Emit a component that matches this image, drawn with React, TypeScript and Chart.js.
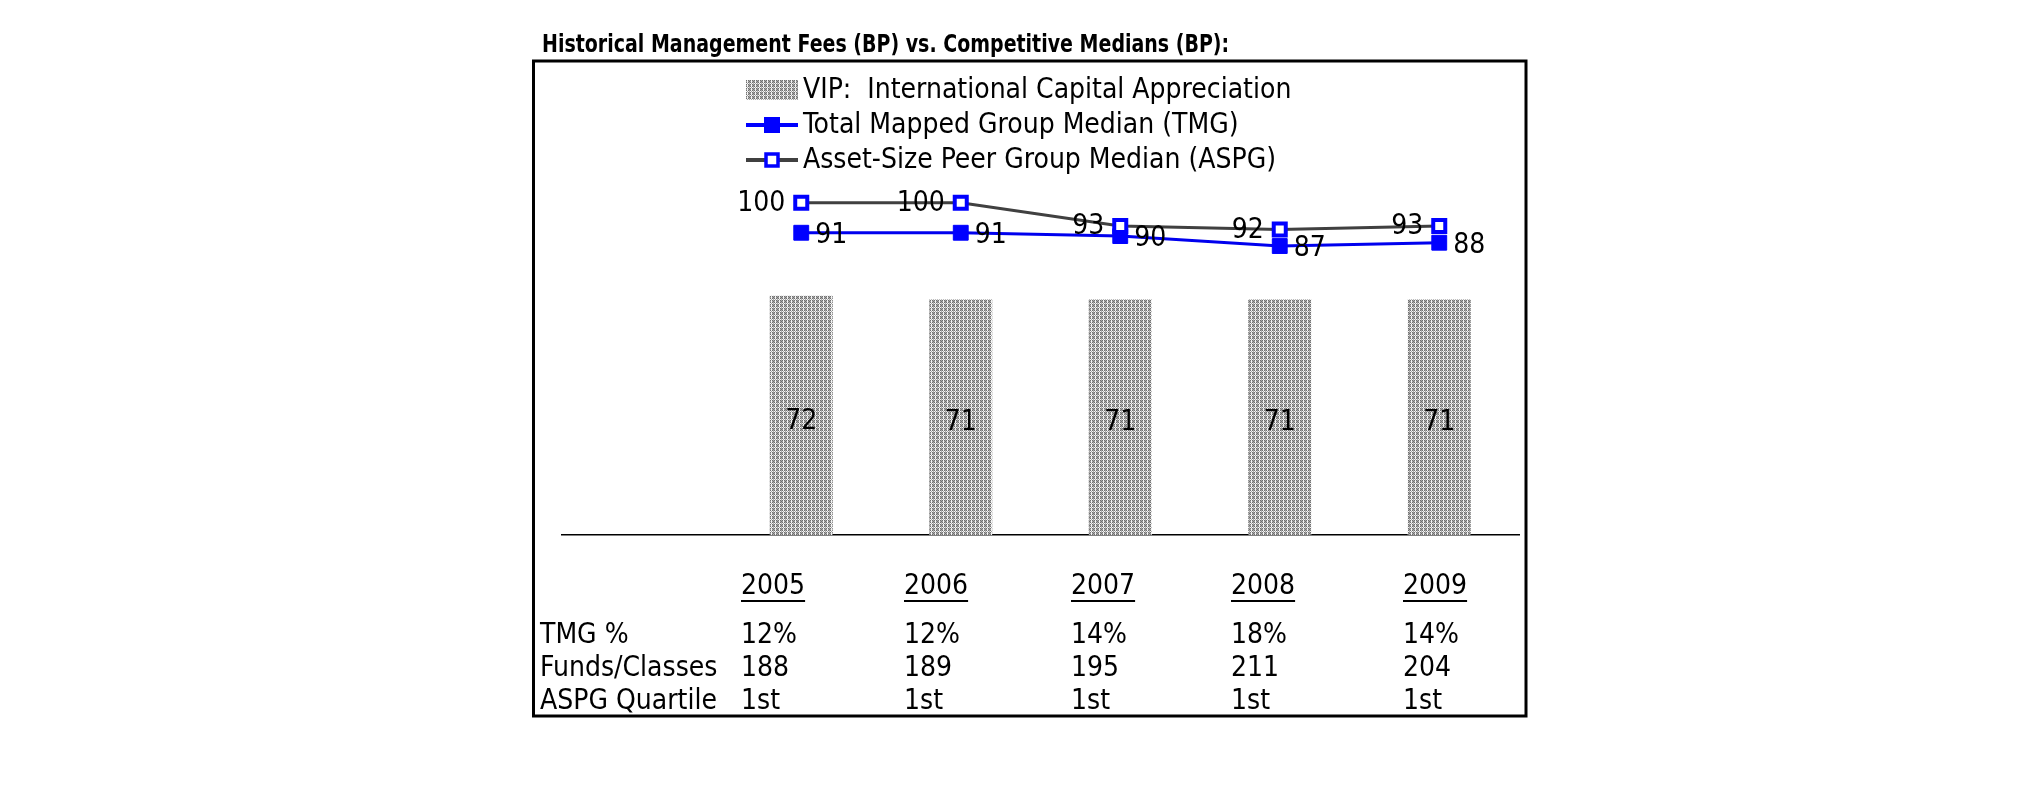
import React, { useEffect, useRef } from 'react';
import { Chart, registerables } from 'chart.js';

Chart.register(...registerables);

// ---------- data ----------
const TITLE = 'Historical Management Fees (BP) vs. Competitive Medians (BP):';
const YEARS = ['2005', '2006', '2007', '2008', '2009'];
const VIP_FEES = [72, 71, 71, 71, 71];
const TMG_MEDIAN = [91, 91, 90, 87, 88];
const ASPG_MEDIAN = [100, 100, 93, 92, 93];
const TMG_PCT = ['12%', '12%', '14%', '18%', '14%'];
const FUNDS_CLASSES = ['188', '189', '195', '211', '204'];
const ASPG_QUARTILE = ['1st', '1st', '1st', '1st', '1st'];
const ROW_LABELS = ['TMG %', 'Funds/Classes', 'ASPG Quartile'];
const SERIES_NAMES = [
  'VIP:  International Capital Appreciation',
  'Total Mapped Group Median (TMG)',
  'Asset-Size Peer Group Median (ASPG)',
];
const Y_MAX = 140;

// ---------- layout / style ----------
const W = 2025;
const H = 806;
const FONT_FAMILY = '"DejaVu Sans Condensed", "DejaVu Sans", sans-serif';
const TEXT_FONT = `28px ${FONT_FAMILY}`;
const TITLE_FONT = `bold 19px "DejaVu Sans", sans-serif`;
const BLUE = '#0000ff';
const TMG_LINE = '#0000ee';
const ASPG_LINE = '#404040';
const BOX = { l: 533.5, t: 61, r: 1526, b: 716, w: 3 };
const LEGEND = { x0: 746, x1: 798, textX: 803, rows: [90, 125, 160] };
const TABLE = { colX: [741, 904, 1071, 1231, 1403], labelX: 540, yearY: 587, rowY: [636, 669, 702] };

function makePattern(): CanvasPattern | string {
  const tile = document.createElement('canvas');
  tile.width = 4;
  tile.height = 4;
  const c = tile.getContext('2d');
  if (!c) return '#aaaaaa';
  const d = '#707070';
  const l = '#a8a8a8';
  const w = '#f4f4f4';
  const grid = [
    [d, l, d, w],
    [l, d, l, w],
    [d, l, d, w],
    [w, l, w, l],
  ];
  for (let y = 0; y < 4; y++) {
    for (let x = 0; x < 4; x++) {
      c.fillStyle = grid[y][x];
      c.fillRect(x, y, 1, 1);
    }
  }
  const p = c.createPattern(tile, 'repeat');
  return p || '#aaaaaa';
}

export default function App() {
  const ref = useRef<HTMLCanvasElement | null>(null);

  useEffect(() => {
    const canvas = ref.current;
    if (!canvas) return;
    const pattern = makePattern();

    const overlay = {
      id: 'overlay',
      afterDatasetsDraw(chart: any) {
        const ctx = chart.ctx as CanvasRenderingContext2D;
        ctx.save();
        ctx.font = TEXT_FONT;
        ctx.fillStyle = '#000';
        ctx.textBaseline = 'middle';
        // bar labels
        const bars = chart.getDatasetMeta(0).data;
        bars.forEach((el: any, i: number) => {
          if (i === 0) return;
          ctx.textAlign = 'center';
          ctx.fillText(String(VIP_FEES[i - 1]), el.x, (el.y + el.base) / 2 + 6);
        });
        // TMG labels (right)
        chart.getDatasetMeta(1).data.forEach((el: any, i: number) => {
          if (i === 0) return;
          ctx.textAlign = 'left';
          ctx.fillText(String(TMG_MEDIAN[i - 1]), el.x + 14, el.y + 3);
        });
        // ASPG labels (left)
        chart.getDatasetMeta(2).data.forEach((el: any, i: number) => {
          if (i === 0) return;
          ctx.textAlign = 'right';
          ctx.fillText(String(ASPG_MEDIAN[i - 1]), el.x - 16, el.y + 1);
        });
        ctx.restore();
      },
      afterDraw(chart: any) {
        const ctx = chart.ctx as CanvasRenderingContext2D;
        ctx.save();
        // title (vertically stretched like the source)
        ctx.save();
        ctx.font = TITLE_FONT;
        ctx.fillStyle = '#000';
        ctx.textBaseline = 'middle';
        ctx.textAlign = 'left';
        ctx.translate(542, 46);
        ctx.scale(1, 1.3);
        ctx.fillText(TITLE, 0, 0);
        ctx.restore();
        // box
        ctx.strokeStyle = '#000';
        ctx.lineWidth = BOX.w;
        ctx.strokeRect(BOX.l, BOX.t, BOX.r - BOX.l, BOX.b - BOX.t);

        // legend
        const mid = (LEGEND.x0 + LEGEND.x1) / 2;
        ctx.fillStyle = pattern as any;
        ctx.fillRect(LEGEND.x0, LEGEND.rows[0] - 10, LEGEND.x1 - LEGEND.x0, 20);
        // TMG
        ctx.strokeStyle = BLUE;
        ctx.lineWidth = 4;
        ctx.beginPath();
        ctx.moveTo(LEGEND.x0, LEGEND.rows[1]);
        ctx.lineTo(LEGEND.x1, LEGEND.rows[1]);
        ctx.stroke();
        ctx.fillStyle = BLUE;
        ctx.fillRect(mid - 8, LEGEND.rows[1] - 8, 16, 16);
        // ASPG
        ctx.strokeStyle = ASPG_LINE;
        ctx.beginPath();
        ctx.moveTo(LEGEND.x0, LEGEND.rows[2]);
        ctx.lineTo(LEGEND.x1, LEGEND.rows[2]);
        ctx.stroke();
        ctx.fillStyle = '#fff';
        ctx.fillRect(mid - 7, LEGEND.rows[2] - 7, 14, 14);
        ctx.strokeStyle = BLUE;
        ctx.lineWidth = 3.5;
        ctx.strokeRect(mid - 6, LEGEND.rows[2] - 6, 12, 12);

        ctx.font = TEXT_FONT;
        ctx.fillStyle = '#000';
        ctx.textBaseline = 'middle';
        ctx.textAlign = 'left';
        SERIES_NAMES.forEach((name, i) => {
          ctx.fillText(name, LEGEND.textX, LEGEND.rows[i] + 1);
        });

        // table
        YEARS.forEach((y, i) => {
          const x = TABLE.colX[i];
          ctx.fillText(y, x, TABLE.yearY);
          const w = ctx.measureText(y).width;
          ctx.fillRect(x, TABLE.yearY + 13, w, 2);
        });
        const rows = [TMG_PCT, FUNDS_CLASSES, ASPG_QUARTILE];
        ROW_LABELS.forEach((lab, r) => {
          ctx.fillText(lab, TABLE.labelX, TABLE.rowY[r]);
          rows[r].forEach((v, i) => {
            ctx.fillText(v, TABLE.colX[i], TABLE.rowY[r]);
          });
        });
        ctx.restore();
      },
    };

    const chart = new Chart(canvas, {
      type: 'bar',
      data: {
        labels: ['', ...YEARS],
        datasets: [
          {
            type: 'bar',
            label: SERIES_NAMES[0],
            data: [null, ...VIP_FEES],
            backgroundColor: pattern as any,
            borderWidth: 0,
            barPercentage: 0.395,
            categoryPercentage: 1,
            order: 3,
          },
          {
            type: 'line',
            label: SERIES_NAMES[1],
            data: [null, ...TMG_MEDIAN],
            borderColor: TMG_LINE,
            borderWidth: 3,
            tension: 0,
            pointStyle: 'rect',
            pointRadius: 10.5,
            pointBackgroundColor: BLUE,
            pointBorderColor: BLUE,
            pointBorderWidth: 1,
            order: 2,
          },
          {
            type: 'line',
            label: SERIES_NAMES[2],
            data: [null, ...ASPG_MEDIAN],
            borderColor: ASPG_LINE,
            borderWidth: 3,
            tension: 0,
            pointStyle: 'rect',
            pointRadius: 8.5,
            pointBackgroundColor: '#ffffff',
            pointBorderColor: BLUE,
            pointBorderWidth: 4,
            order: 1,
          },
        ] as any,
      },
      options: {
        responsive: false,
        animation: false,
        devicePixelRatio: 1,
        layout: { padding: { left: 562, right: W - 1519, top: 70, bottom: H - 535 } },
        plugins: {
          legend: { display: false },
          tooltip: { enabled: false },
          title: { display: false },
        },
        scales: {
          x: {
            type: 'category',
            offset: true,
            grid: { display: false },
            ticks: { display: false },
            border: { display: true, color: '#000', width: 1.5 },
            afterFit: (s: any) => {
              s.height = 0;
            },
          },
          y: { display: false, min: 0, max: Y_MAX },
        },
      } as any,
      plugins: [overlay],
    });
    return () => chart.destroy();
  }, []);

  return (
    <div style={{ position: 'absolute', left: 0, top: 0, width: W, height: H, background: '#fff' }}>
      <canvas ref={ref} width={W} height={H} style={{ display: 'block', width: W, height: H }} />
    </div>
  );
}
